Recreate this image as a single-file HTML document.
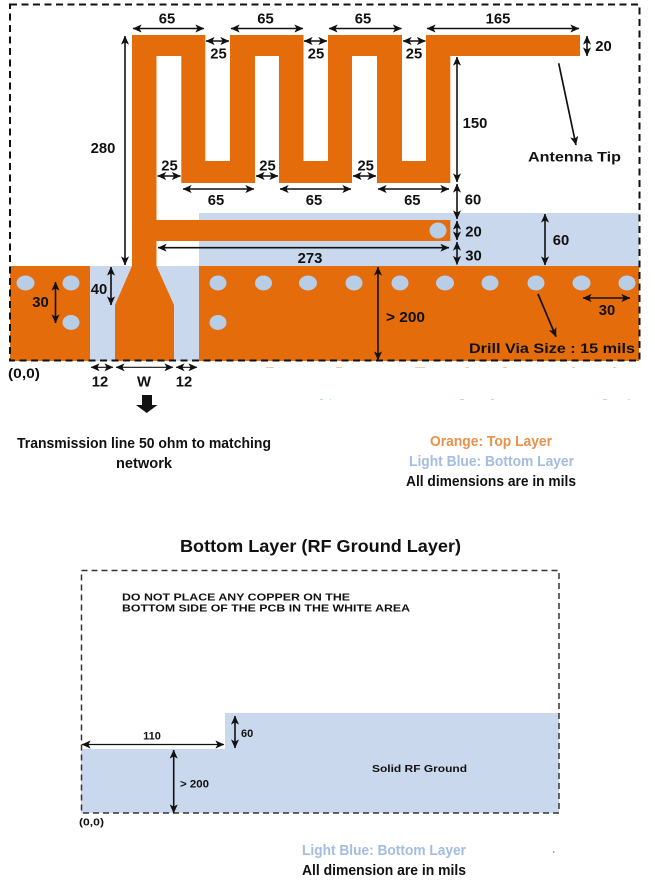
<!DOCTYPE html>
<html><head><meta charset="utf-8">
<style>
html,body{margin:0;padding:0;background:#fff;width:655px;height:882px;overflow:hidden}
svg{display:block;filter:blur(.35px)}
text{font-family:"Liberation Sans",sans-serif;font-weight:bold;fill:#111}
.d{font-size:14.8px;text-anchor:middle}
.a{fill:none;stroke:#111;stroke-width:1.6;marker-start:url(#h);marker-end:url(#h)}
.s{stroke-width:1.2}
.o{fill:none;stroke:#111;stroke-width:1.7;marker-end:url(#h)}
.c{fill:#b8cde6}
</style></head><body>
<svg width="655" height="882" viewBox="0 0 655 882" xmlns="http://www.w3.org/2000/svg">
<defs>
<marker id="h" viewBox="0 0 10 10" refX="9.6" refY="5" markerWidth="9" markerHeight="9" markerUnits="userSpaceOnUse" orient="auto-start-reverse">
<path d="M0 0.5L10 5L0 9.5L2.5 5Z" fill="#111"/>
</marker>
</defs>

<!-- Top layer: bottom-copper blue -->
<path d="M199 213H639V361H90V266H199Z" fill="#c9d8ec"/>
<!-- ground planes -->
<rect x="10" y="266" width="80" height="95" fill="#e46c0b"/>
<rect x="199" y="266" width="440" height="95" fill="#e46c0b"/>
<!-- meander + feed -->
<path fill="#e46c0b" d="M132 35H205.3V161H230V35H303.5V161H328V35H402V161H426V35H580V56H450.3V183H377V56H352V183H279V56H255V183H181.3V56H156.5V220H450.3V241H156.5V266L174 305V361H115V305L132 266Z"/>
<!-- vias -->
<ellipse class="c" cx="25.5" cy="283" rx="9" ry="7.5"/>
<ellipse class="c" cx="71" cy="283" rx="8.5" ry="7.5"/>
<ellipse class="c" cx="71" cy="322.5" rx="8.5" ry="7.5"/>
<ellipse class="c" cx="218" cy="283" rx="8.5" ry="7.5"/>
<ellipse class="c" cx="218" cy="322.5" rx="8.5" ry="7.5"/>
<ellipse class="c" cx="263.5" cy="283" rx="8.5" ry="7.5"/>
<ellipse class="c" cx="308" cy="283" rx="9" ry="7.5"/>
<ellipse class="c" cx="354" cy="283" rx="8.5" ry="7.5"/>
<ellipse class="c" cx="400" cy="283" rx="8.5" ry="7.5"/>
<ellipse class="c" cx="445" cy="283" rx="9" ry="7.5"/>
<ellipse class="c" cx="490" cy="283" rx="8.5" ry="7.5"/>
<ellipse class="c" cx="536" cy="283" rx="8.5" ry="7.5"/>
<ellipse class="c" cx="581.5" cy="283" rx="9" ry="7.5"/>
<ellipse class="c" cx="627" cy="283" rx="8.5" ry="7.5"/>
<ellipse class="c" cx="438" cy="230.5" rx="8.5" ry="8"/>

<!-- outer dashed -->
<rect x="10" y="4.5" width="629.5" height="356" fill="none" stroke="#111" stroke-width="2" stroke-dasharray="7 4.5"/>

<!-- top dimensions -->
<path class="a" d="M133 28.500H204"/><path class="a" d="M231 28.500H303"/><path class="a" d="M329 28.500H401.500"/><path class="a" d="M427 28.500H579"/>
<text class="d" x="167" y="23.500">65</text><text class="d" x="265.500" y="23.500">65</text><text class="d" x="363" y="23.500">65</text><text class="d" x="498" y="23.500">165</text>
<path class="a" d="M206 41H229"/><path class="a" d="M304 41H327"/><path class="a" d="M403 41H425.500"/>
<text class="d" x="218.500" y="58.500">25</text><text class="d" x="316" y="58.500">25</text><text class="d" x="414" y="58.500">25</text>
<path class="a" d="M587 36V56"/><text class="d" x="603.500" y="51">20</text>
<path class="a" d="M457 57V182"/><text class="d" x="475" y="128">150</text>
<path class="o" d="M558.700 63.300L576 145"/>
<text x="528" y="161.700" font-size="13.500" textLength="93" lengthAdjust="spacingAndGlyphs">Antenna Tip</text>
<path class="a" d="M157.500 176H180.500"/><path class="a" d="M256 176H278"/><path class="a" d="M353 176H376"/>
<text class="d" x="169.500" y="170.500">25</text><text class="d" x="267.500" y="170.500">25</text><text class="d" x="365.700" y="170.500">25</text>
<path class="a" d="M183 189H254"/><path class="a" d="M280 189H351"/><path class="a" d="M378 189H449"/>
<text class="d" x="216" y="205">65</text><text class="d" x="314" y="205">65</text><text class="d" x="412.300" y="205">65</text>
<path class="a" d="M125 36V265"/><text class="d" x="103" y="153">280</text>
<path class="a" d="M457 184V219"/><text class="d" x="473" y="204.500">60</text>
<path class="a" d="M457 221V240"/><text class="d" x="473.500" y="236.500">20</text>
<path class="a" d="M457 242V264.500"/><text class="d" x="473.500" y="260.500">30</text>
<path class="a" d="M545 214V265"/><text class="d" x="561" y="245">60</text>
<path class="a" d="M158 247.700H449"/><text class="d" x="310" y="263">273</text>
<path class="a" d="M111 267V305"/><text class="d" x="99" y="294">40</text>
<path class="a" d="M55.500 282V323"/><text class="d" x="40.500" y="307">30</text>
<path class="a" d="M378 267V360"/><text x="386" y="322" font-size="14.500" textLength="39" lengthAdjust="spacingAndGlyphs">&gt; 200</text>
<path class="a" d="M583 298H630"/><text class="d" x="607" y="315">30</text>
<path class="o" d="M538 294L556 336.700"/>
<text x="469" y="353" font-size="14" textLength="166" lengthAdjust="spacingAndGlyphs">Drill Via Size : 15 mils</text>
<text x="8" y="378" font-size="14" textLength="32" lengthAdjust="spacingAndGlyphs">(0,0)</text>
<path class="a s" d="M91 367.300H113"/><path class="a s" d="M116 367.300H173"/><path class="a s" d="M176 367.300H197"/>
<text class="d" x="100" y="386.700">12</text><text class="d" x="144" y="386.700">W</text><text class="d" x="184" y="386.700">12</text>
<path d="M142 395H152V405H157.500L146.700 413L136 405H142Z" fill="#111"/>

<!-- faint artifacts -->
<g fill="#f6c8a4"><rect x="266" y="367" width="8" height="1"/><rect x="336" y="367" width="6" height="1"/><rect x="415" y="367" width="10" height="1"/><rect x="466" y="367" width="3" height="1"/><rect x="503" y="367" width="4" height="1"/><rect x="572" y="367" width="3" height="1"/><rect x="613" y="367" width="3" height="1"/></g>
<g fill="#c5d6ec"><rect x="320" y="399" width="3" height="1"/><rect x="330" y="399" width="1" height="1"/><rect x="460" y="399" width="4" height="1"/><rect x="491" y="399" width="3" height="1"/><rect x="603" y="399" width="4" height="1"/><rect x="628" y="399" width="2" height="1"/></g>

<!-- captions -->
<text x="17" y="448" font-size="14.500" textLength="254" lengthAdjust="spacingAndGlyphs">Transmission line 50 ohm to matching</text>
<text x="116" y="468" font-size="14.500" textLength="56" lengthAdjust="spacingAndGlyphs">network</text>
<text x="430" y="446" font-size="14.500" textLength="122" lengthAdjust="spacingAndGlyphs" style="fill:#e8914a">Orange: Top Layer</text>
<text x="409" y="466" font-size="14.500" textLength="165" lengthAdjust="spacingAndGlyphs" style="fill:#a3bde2">Light Blue: Bottom Layer</text>
<text x="406" y="486" font-size="14.500" textLength="170" lengthAdjust="spacingAndGlyphs">All dimensions are in mils</text>

<text x="180" y="552" font-size="17.500" textLength="281" lengthAdjust="spacingAndGlyphs">Bottom Layer (RF Ground Layer)</text>

<!-- bottom diagram -->
<path d="M81 749H225V713H559V813H81Z" fill="#c9d8ec"/>
<rect x="81.500" y="570.500" width="477.500" height="242.500" fill="none" stroke="#333" stroke-width="1.500" stroke-dasharray="6 4"/>
<text x="122" y="600.500" font-size="10.500" textLength="228" lengthAdjust="spacingAndGlyphs">DO NOT PLACE ANY COPPER ON THE</text>
<text x="122" y="611.500" font-size="10.500" textLength="288" lengthAdjust="spacingAndGlyphs">BOTTOM SIDE OF THE PCB IN THE WHITE AREA</text>
<path class="a s" d="M82 744.500H224"/>
<text class="d" x="152" y="739.500" style="font-size:11px">110</text>
<path class="a" d="M235 716V748"/>
<text x="241" y="737" font-size="11">60</text>
<path class="a" d="M173.700 750V813"/>
<text x="180" y="787.500" font-size="11" textLength="29" lengthAdjust="spacingAndGlyphs">&gt; 200</text>
<text x="79" y="825.500" font-size="10.500" textLength="25" lengthAdjust="spacingAndGlyphs">(0,0)</text>
<text x="372" y="772" font-size="10.500" textLength="95" lengthAdjust="spacingAndGlyphs">Solid RF Ground</text>

<text x="302" y="855" font-size="14.500" textLength="164" lengthAdjust="spacingAndGlyphs" style="fill:#a3bde2">Light Blue: Bottom Layer</text>
<text x="302" y="875" font-size="14.500" textLength="164" lengthAdjust="spacingAndGlyphs">All dimension are in mils</text>
<rect x="553" y="851" width="1.500" height="2" fill="#8fa8c8"/>
</svg>
</body></html>
